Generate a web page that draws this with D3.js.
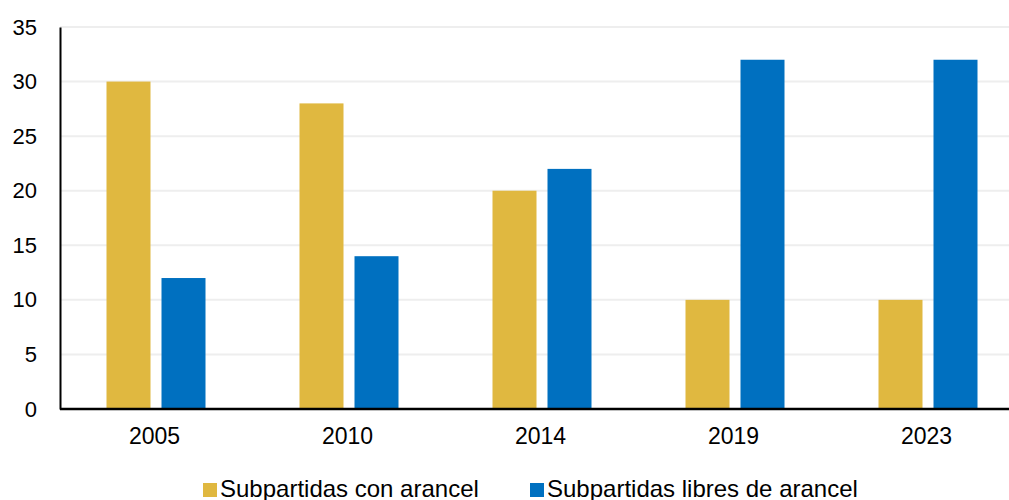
<!DOCTYPE html>
<html>
<head>
<meta charset="utf-8">
<script src="https://cdn.jsdelivr.net/npm/d3@7"></script>
<style>
  body { margin: 0; background: #fff; }
  text { font-family: "Liberation Sans", Arial, sans-serif; fill: #000; }
</style>
</head>
<body>
<div id="chart"></div>
<script>
var years = ['2005', '2010', '2014', '2019', '2023'];
var conArancel = [30, 28, 20, 10, 10];
var libresArancel = [12, 14, 22, 32, 32];
var seriesNames = ['Subpartidas con arancel', 'Subpartidas libres de arancel'];
var yTicks = [0, 5, 10, 15, 20, 25, 30, 35];

var width = 1009,
    height = 500;
var margin = {top: 27, bottom: 91, left: 60};
var colors = ['#E0B840', '#0070C0'];

var svg = d3.select('#chart')
  .append('svg')
    .attr('width', width)
    .attr('height', height);

// the band range runs past the right edge, as in the original
var x = d3.scaleBand()
  .domain(years)
  .range([margin.left, margin.left + 965]);

var y = d3.scaleLinear()
  .domain([0, 35])
  .range([height - margin.bottom, margin.top]);

var barW = 44, gap = 11;

// gridlines
svg.selectAll('.grid')
  .data(yTicks.slice(1))
  .enter()
  .append('line')
  .attr('class', 'grid')
  .attr('x1', margin.left)
  .attr('x2', width)
  .attr('y1', function(d) { return y(d); })
  .attr('y2', function(d) { return y(d); })
  .style('stroke', '#eeeeee')
  .style('stroke-width', 2);

var table = years.map(function(yr, i) {
  return {year: yr, values: [conArancel[i], libresArancel[i]]};
});

var groups = svg.selectAll('.group')
  .data(table)
  .enter()
  .append('g')
  .attr('transform', function(d) {
    return 'translate(' + (x(d.year) + x.bandwidth() / 2) + ',0)';
  });

groups.selectAll('rect')
  .data(function(d) { return d.values; })
  .enter()
  .append('rect')
  .attr('x', function(d, i) { return i === 0 ? -barW - gap / 2 - 0.5 : gap / 2 - 0.5; })
  .attr('width', barW)
  .attr('y', function(d) { return y(d); })
  .attr('height', function(d) { return y(0) - y(d); })
  .style('fill', function(d, i) { return colors[i]; });

// y axis
var yAxis = svg.append('g')
  .attr('transform', 'translate(' + margin.left + ',0)')
  .call(d3.axisLeft(y).tickValues(yTicks).tickSize(0).tickPadding(23));
yAxis.select('.domain').style('stroke', '#000').style('stroke-width', 2);
yAxis.selectAll('text').style('font-size', '22px');

// x axis
var xAxis = svg.append('g')
  .attr('transform', 'translate(0,' + y(0) + ')')
  .call(d3.axisBottom(x).tickSize(0).tickPadding(19));
xAxis.select('.domain').attr('d', 'M' + margin.left + ',0H' + width)
  .style('stroke', '#000').style('stroke-width', 2.5);
xAxis.selectAll('text').style('font-size', '23px');
xAxis.selectAll('.tick').attr('transform', function(d) {
  return 'translate(' + (x(d) + x.bandwidth() / 2 - 2) + ',0)';
});

// legend
var legendX = [203, 530];
var legend = svg.selectAll('.legend')
  .data(seriesNames)
  .enter()
  .append('g')
  .attr('transform', function(d, i) { return 'translate(' + legendX[i] + ',483)'; });

legend.append('rect')
  .attr('width', 14)
  .attr('height', 14)
  .style('fill', function(d, i) { return colors[i]; });

legend.append('text')
  .attr('x', 17)
  .attr('y', 14)
  .style('font-size', '24px')
  .text(function(d) { return d; });
</script>
</body>
</html>
